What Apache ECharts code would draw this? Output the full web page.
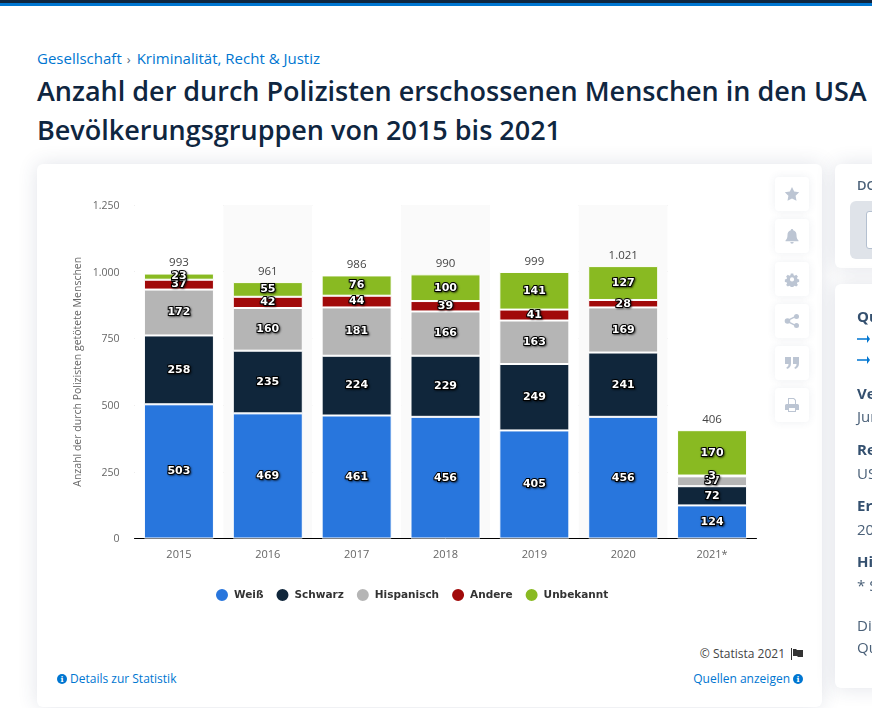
<!DOCTYPE html>
<html>
<head>
<meta charset="utf-8">
<title>Anzahl der durch Polizisten erschossenen Menschen</title>
<script src="https://cdn.jsdelivr.net/npm/echarts@6/dist/echarts.min.js"></script>
<style>
html,body{margin:0;padding:0;width:872px;height:708px;overflow:hidden;background:#fff;font-family:"Open Sans",sans-serif;}
#bar1{position:absolute;left:0;top:0;width:872px;height:3px;background:#0f2640;}
#bar2{position:absolute;left:0;top:3px;width:872px;height:3px;background:#0076d1;}
#crumb{position:absolute;left:37px;top:48px;font-size:15px;line-height:20px;color:#0076d1;white-space:nowrap;}
#crumb span{color:#5b6b7d;font-size:13px;margin:0 6px 0 5px;}
h1{position:absolute;left:37px;top:71px;margin:0;font-size:27px;line-height:39px;font-weight:600;color:#0f2640;white-space:nowrap;}
.card{position:absolute;background:#fff;border-radius:6px;box-shadow:0 0 20px rgba(40,60,100,.14);}
#card{left:37px;top:164px;width:785px;height:543px;}
#chart{position:absolute;left:37px;top:164px;width:785px;height:480px;}
.tool{position:absolute;left:775px;width:34px;height:34px;background:#fff;border-radius:4px;box-shadow:0 0 8px rgba(60,80,110,.09);}
.tool svg{position:absolute;left:9px;top:9px;width:16px;height:16px;fill:#bcc5d3;}
.foot{position:absolute;font-size:12px;line-height:16px;white-space:nowrap;color:#0076d1;}
.ic{position:absolute;width:10px;height:10px;border-radius:50%;background:#0076d1;color:#fff;font:bold 8px/10px "DejaVu Serif",serif;text-align:center;}
#side1{left:835px;top:164px;width:100px;height:104px;}
#side2{left:835px;top:284px;width:100px;height:404px;}
#grey{position:absolute;left:850px;top:201px;width:60px;height:58px;border-radius:6px;background:#dfe3e9;}
#grey div{position:absolute;left:16px;top:10px;width:40px;height:36px;background:#fff;border:1px solid #b4c0d0;border-radius:3px;}
.s{position:absolute;left:857px;white-space:nowrap;font-size:15px;line-height:18px;color:#4a6078;}
.b{font-weight:700;color:#34506f;}
.arrow{position:absolute;left:857px;width:13px;height:8px;}
</style>
</head>
<body>
<div id="bar1"></div><div id="bar2"></div>
<div id="crumb">Gesellschaft<span>›</span>Kriminalität, Recht &amp; Justiz</div>
<h1>Anzahl der durch Polizisten erschossenen Menschen in den USA<br>Bevölkerungsgruppen von 2015 bis 2021</h1>
<div class="card" id="card"></div>
<div id="chart"></div>
<div class="tool" style="top:177px"><svg viewBox="0 0 16 16"><path d="M8 1l2.2 4.6 5 .7-3.6 3.5.9 5L8 12.4 3.500 14.800l.9-5L.8 6.300l5-.7z"/></svg></div>
<div class="tool" style="top:219px"><svg viewBox="0 0 16 16"><path d="M8 1a1.200 1.200 0 0 1 1.200 1.300C11.500 2.900 12.500 4.800 12.500 7c0 3 .8 4.300 2 5.500v.8h-13v-.8c1.200-1.200 2-2.500 2-5.500 0-2.200 1-4.100 3.300-4.700A1.200 1.200 0 0 1 8 1zM6.300 14h3.400a1.700 1.700 0 0 1-3.400 0z"/></svg></div>
<div class="tool" style="top:262px"><svg viewBox="0 0 16 16"><path fill-rule="evenodd" d="M6.500 1.500h3l.4 2 1.300.6 1.800-1.100 2 2-1.100 1.800.6 1.300 2 .4v0l-.0 3-2 .4-.6 1.300 1.100 1.800-2 2-1.800-1.100-1.300.6-.4 2h-3l-.4-2-1.300-.6-1.800 1.100-2-2 1.100-1.800-.6-1.300-2-.4v-3l2-.4.6-1.300-1.100-1.800 2-2 1.800 1.100 1.300-.6zM8 6a2.500 2.500 0 1 0 0 5 2.500 2.500 0 0 0 0-5z" transform="translate(1.300 1.300) scale(.84)"/></svg></div>
<div class="tool" style="top:304px"><svg viewBox="0 0 16 16"><circle cx="3.500" cy="8" r="2.800"/><circle cx="12.500" cy="3.500" r="2.500"/><circle cx="12.500" cy="12.500" r="2.500"/><path d="M3 7l9-4.500.6 1.200-9 4.500zM3.600 7.800l9 4.500-.6 1.200-9-4.500z"/></svg></div>
<div class="tool" style="top:346px"><svg viewBox="0 0 16 16"><path d="M1 2h6v6.500c0 3-1.500 4.800-4 5.500l-.6-1.600C3.800 11.800 4.500 10.800 4.500 9H1zM9 2h6v6.500c0 3-1.500 4.800-4 5.500l-.6-1.600c1.400-.6 2.100-1.600 2.100-3.400H9z"/></svg></div>
<div class="tool" style="top:388px"><svg viewBox="0 0 16 16"><path fill-rule="evenodd" d="M4 1h6l2 2v4h1.500A1.500 1.500 0 0 1 15 8.500V13h-3v2H4v-2H1V8.500A1.500 1.500 0 0 1 2.500 7H4zm1 1v5h6V3.500L9.500 2zM5 11v3h6v-3z"/></svg></div>
<div class="foot" style="right:87px;top:646px;color:#444">© Statista 2021</div>
<svg style="position:absolute;left:791px;top:648px;width:12px;height:12px" viewBox="0 0 12 12"><path d="M0 0h1v12H0zM2 1h3l1 1h6v7H7L6 8H2z" fill="#333"/></svg>
<div class="ic" style="left:57px;top:674px">i</div>
<div class="foot" style="left:70px;top:671px">Details zur Statistik</div>
<div class="foot" style="right:82px;top:671px">Quellen anzeigen</div>
<div class="ic" style="left:793px;top:674px">i</div>
<div class="card" id="side1"></div>
<div class="card" id="side2"></div>
<div id="grey"><div></div></div>
<div class="s b" style="top:176px;font-size:13px;font-weight:600;color:#4a6078">DOWNLOAD</div>
<div class="s b" style="top:307px">Quelle</div>
<svg class="arrow" style="top:335px" viewBox="0 0 13 8"><path d="M0 3.200h10V0l3 4-3 4V4.800H0z" fill="#0076d1"/></svg>
<svg class="arrow" style="top:356px" viewBox="0 0 13 8"><path d="M0 3.200h10V0l3 4-3 4V4.800H0z" fill="#0076d1"/></svg>
<div class="s b" style="top:384px">Veröffentlicht</div>
<div class="s" style="top:407px">Juni 2021</div>
<div class="s b" style="top:440px">Region</div>
<div class="s" style="top:464px">USA</div>
<div class="s b" style="top:496px">Erhebung</div>
<div class="s" style="top:520px">2015</div>
<div class="s b" style="top:552px">Hinweise</div>
<div class="s" style="top:576px">* Stand</div>
<div class="s" style="top:616px">Die</div>
<div class="s" style="top:638px">Quelle</div>
<script>
var years = ['2015','2016','2017','2018','2019','2020','2021*'];
var weiss = [503,469,461,456,405,456,124];
var schwarz = [258,235,224,229,249,241,72];
var hispanisch = [172,160,181,166,163,169,37];
var andere = [37,42,44,39,41,28,3];
var unbekannt = [23,55,76,100,141,127,170];
var gesamt = [993,961,986,990,999,1021,406];
var yTicks = 250;
var yMax = 1250;

function deNum(v){
	return String(v).replace(/\B(?=(\d{3})+$)/g,'.');
}
function segment(name,data,color){
	return {
		name:name,
		type:'bar',
		stack:'all',
		data:data,
		barWidth:70,
		itemStyle:{color:color,borderColor:'#fff',borderWidth:1},
		label:{
			show:true,
			position:'inside',
			color:'#fff',
			fontFamily:'DejaVu Sans',
			fontWeight:'bold',
			fontSize:11,
			textBorderColor:'#000',
			textBorderWidth:2,
			textShadowColor:'rgba(0,0,0,.5)',
			textShadowBlur:2,
			textShadowOffsetX:1,
			textShadowOffsetY:1
		}
	};
}
var chart = echarts.init(document.getElementById('chart'));
chart.setOption({
	animation:false,
	grid:{left:97.5,width:622,top:41,height:333.5,containLabel:false},
	legend:{
		data:['Weiß','Schwarz','Hispanisch','Andere','Unbekannt'],
		top:418,
		left:172,
		icon:'circle',
		itemWidth:14,
		itemHeight:14,
		itemGap:11,
		textStyle:{fontFamily:'DejaVu Sans',fontWeight:'bold',fontSize:10.5,color:'#333'}
	},
	xAxis:{
		type:'category',
		data:years,
		axisTick:{show:false},
		axisLine:{lineStyle:{color:'#000',width:1}},
		axisLabel:{fontFamily:'Open Sans',fontSize:11,color:'#666',margin:11},
		splitArea:{show:true,areaStyle:{color:['#fff','#fafafa']}}
	},
	yAxis:{
		type:'value',
		min:0,
		max:yMax,
		interval:yTicks,
		name:'Anzahl der durch Polizisten getötete Menschen',
		nameLocation:'middle',
		nameGap:51,
		nameMoveOverlap:false,
		nameTextStyle:{fontFamily:'Open Sans',fontSize:10.5,color:'#666'},
		axisLine:{show:false},
		axisTick:{show:false},
		axisLabel:{fontFamily:'Open Sans',fontSize:10.5,color:'#666',margin:15,verticalAlign:'top',lineHeight:2,formatter:deNum},
		splitLine:{lineStyle:{color:'#bbb',type:'dotted',width:1}}
	},
	series:[
		segment('Weiß',weiss,'#2876dd'),
		segment('Schwarz',schwarz,'#10263b'),
		segment('Hispanisch',hispanisch,'#b5b5b5'),
		segment('Andere',andere,'#a10a0a'),
		segment('Unbekannt',unbekannt,'#89ba22'),
		{
			name:'Gesamt',
			type:'line',
			data:gesamt,
			symbol:'circle',
			symbolSize:1,
			showSymbol:true,
			showAllSymbol:true,
			silent:true,
			itemStyle:{color:'rgba(0,0,0,0)'},
			lineStyle:{opacity:0},
			label:{
				show:true,
				position:'top',
				distance:4,
				fontFamily:'Open Sans',
				fontSize:11.5,
				color:'#444',
				formatter:function(p){return deNum(p.value);}
			}
		}
	]
});
</script>
</body>
</html>
